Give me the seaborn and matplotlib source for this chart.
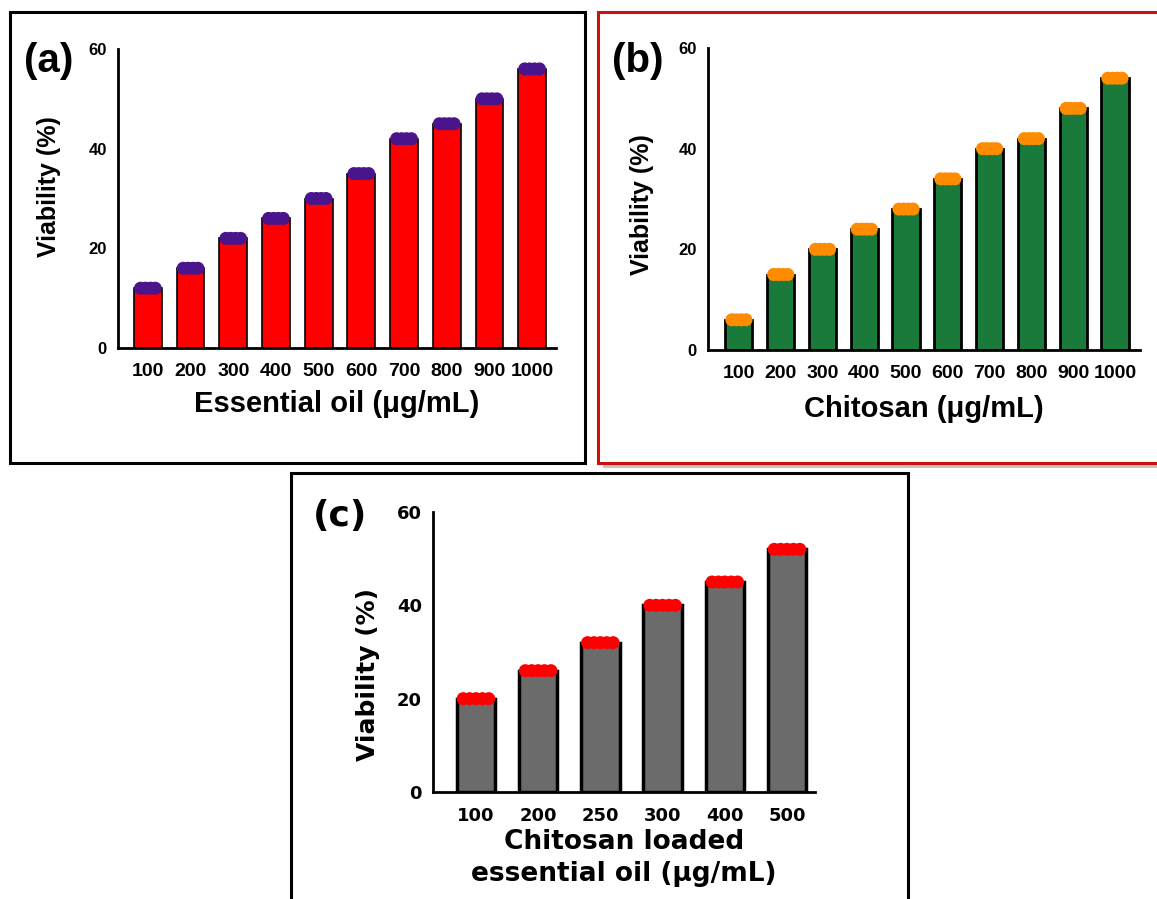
import numpy as np
import pandas as pd
import matplotlib
matplotlib.use("Agg")
import matplotlib.pyplot as plt
from matplotlib.patches import Rectangle
import seaborn as sns

# panel (a) essential oil
oil_conc = ["100", "200", "300", "400", "500", "600", "700", "800", "900", "1000"]
oil_viab = [12, 16, 22, 26, 30, 35, 42, 45, 50, 56]

# panel (b) chitosan
chi_conc = ["100", "200", "300", "400", "500", "600", "700", "800", "900", "1000"]
chi_viab = [6, 15, 20, 24, 28, 34, 40, 42, 48, 54]

# panel (c) chitosan loaded essential oil
load_conc = ["100", "200", "250", "300", "400", "500"]
load_viab = [20, 26, 32, 40, 45, 52]

y_ticks = [0, 20, 40, 60]

W, H = 1157, 899

sns.set_theme(style="white")
plt.rcParams['font.family'] = ['Liberation Sans', 'DejaVu Sans']
plt.rcParams['font.weight'] = 'bold'
plt.rcParams['text.color'] = 'black'
plt.rcParams['axes.labelcolor'] = 'black'
plt.rcParams['xtick.color'] = 'black'
plt.rcParams['ytick.color'] = 'black'


def px_rect(left, top, right, bottom):
    # pixel box (top-left origin) -> figure fraction rect
    return [left / W, 1 - bottom / H, (right - left) / W, (bottom - top) / H]


def draw_panel(ax, cats, vals, bar_col, cap_col, xlim, bar_w, edge_lw, n_dots,
               font, tick_fs, ytick_fs, label_fs, xlabel, ylabel_xy, xlabel_pad=8):
    df = pd.DataFrame({"conc": cats, "viab": vals})
    sns.barplot(data=df, x="conc", y="viab", color=bar_col, saturation=1,
                width=bar_w, edgecolor="black", linewidth=edge_lw, ax=ax, zorder=2)
    ax.set_xlim(*xlim)
    ax.set_ylim(0, 60)
    ax.set_yticks(y_ticks)

    # replicate dots sitting on top of each bar
    ax_w_px = ax.get_position().width * W
    unit_px = ax_w_px / (xlim[1] - xlim[0])
    dot_px = 13
    dot_data = dot_px / unit_px
    for bar in ax.patches:
        cx = bar.get_x() + bar.get_width() / 2
        half = (bar.get_width() - dot_data) / 2
        xs = cx + np.linspace(-half, half, n_dots)
        ax.scatter(xs, np.full(n_dots, bar.get_height()), s=(dot_px * 0.72) ** 2,
                   color=cap_col, edgecolor="none", zorder=4, clip_on=False)

    sns.despine(ax=ax)
    for side in ["left", "bottom"]:
        ax.spines[side].set_linewidth(2)
        ax.spines[side].set_color("black")
    ax.tick_params(axis="both", direction="out", length=6, width=2, color="black")
    ax.tick_params(axis="x", labelsize=tick_fs, pad=5)
    ax.tick_params(axis="y", labelsize=ytick_fs, pad=2)
    for lab in ax.get_xticklabels() + ax.get_yticklabels():
        lab.set_fontfamily(font)
        lab.set_fontweight("bold")
    ax.set_xlabel(xlabel, fontsize=label_fs, fontweight="bold", family=font,
                  labelpad=xlabel_pad)
    ax.set_ylabel("Viability (%)", fontsize=18, fontweight="bold", family=font)
    ax.yaxis.set_label_coords(*ylabel_xy)


fig = plt.figure(figsize=(W / 100, H / 100), dpi=100)

# frames round the panels
fig.add_artist(Rectangle((10 / W, 1 - 463 / H), 575 / W, 451 / H, transform=fig.transFigure,
                         fill=False, ec="black", lw=2.2))
fig.add_artist(Rectangle((603 / W, 1 - 468 / H), 570 / W, 451 / H, transform=fig.transFigure,
                         fc="#c4c4c4", ec="none", zorder=-2))
fig.add_artist(Rectangle((598 / W, 1 - 463 / H), 570 / W, 451 / H, transform=fig.transFigure,
                         fc="white", ec="#cc1010", lw=2.2, zorder=-1))
fig.add_artist(Rectangle((291 / W, 1 - 910 / H), 617 / W, 437 / H, transform=fig.transFigure,
                         fill=False, ec="black", lw=2.2))

ax_a = fig.add_axes(px_rect(118, 49, 556, 348))
draw_panel(ax_a, oil_conc, oil_viab, "#ff0000", "#4a148c", (-0.70, 9.56), 0.65, 1.2, 4,
           "Liberation Sans", 14, 12, 21, "Essential oil (μg/mL)", (-0.13, 0.54), 7)

ax_b = fig.add_axes(px_rect(708, 48, 1140, 350))
draw_panel(ax_b, chi_conc, chi_viab, "#1a7a3c", "#ff8c00", (-0.74, 9.6), 0.65, 2, 4,
           "Liberation Sans", 14, 12, 21, "Chitosan (μg/mL)", (-0.125, 0.48), 9)

ax_c = fig.add_axes(px_rect(433, 512, 815, 792))
draw_panel(ax_c, load_conc, load_viab, "#6b6b6b", "#ff0000", (-0.69, 5.45), 0.62, 2.5, 5,
           "DejaVu Sans", 13, 13, 19, "Chitosan loaded\nessential oil (μg/mL)", (-0.14, 0.42), 3)
ax_c.xaxis.label.set_linespacing(1.3)

fig.text(24 / W, 1 - 42 / H, "(a)", fontsize=29, fontweight="bold", va="top", ha="left")
fig.text(612 / W, 1 - 42 / H, "(b)", fontsize=29, fontweight="bold", va="top", ha="left")
fig.text(313 / W, 1 - 499 / H, "(c)", fontsize=26, fontweight="bold", va="top", ha="left",
         family="DejaVu Sans")

fig.savefig("out.png", dpi=100)
